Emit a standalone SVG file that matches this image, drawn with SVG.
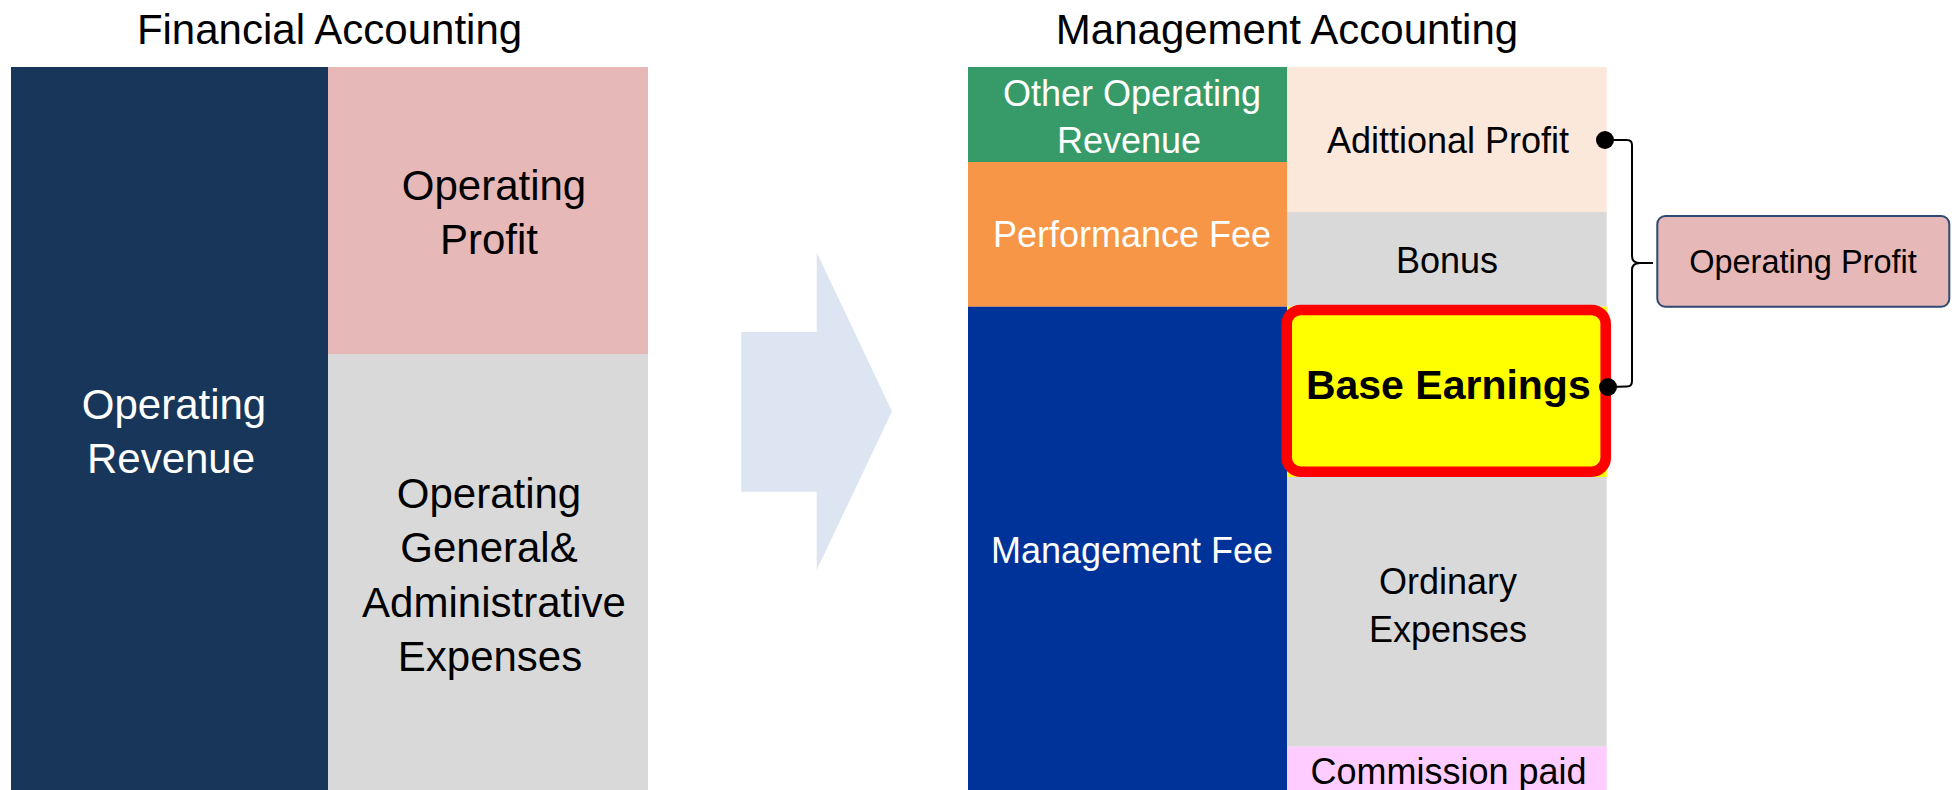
<svg xmlns="http://www.w3.org/2000/svg" width="1957" height="790" viewBox="0 0 1957 790">
<style>
text{font-family:"Liberation Sans",Arial,sans-serif;text-anchor:middle}
.t42{font-size:42px}
.t36{font-size:36px}
.w{fill:#FFFFFF}
.k{fill:#000000}
.conn{fill:none;stroke:#000000;stroke-width:2}
</style>
<rect width="1957" height="790" fill="#FFFFFF"/>
<g id="title-financial"><text class="t42 k" x="329.5" y="43.5">Financial Accounting</text></g>
<g id="title-management"><text class="t42 k" x="1287" y="43.5">Management Accounting</text></g>

<g id="operating-revenue">
<rect x="11" y="67" width="317" height="723" fill="#183659"/>
<text class="t42 w" x="174" y="419">Operating</text>
<text class="t42 w" x="171" y="473">Revenue</text>
</g>
<g id="operating-profit-fa">
<rect x="328" y="67" width="320" height="287" fill="#E6B8B7"/>
<text class="t42 k" x="494" y="199.5">Operating</text>
<text class="t42 k" x="489" y="253.5">Profit</text>
</g>
<g id="operating-ga-expenses">
<rect x="328" y="354" width="320" height="436" fill="#D9D9D9"/>
<text class="t42 k" x="489" y="508">Operating</text>
<text class="t42 k" x="489" y="562">General&amp;</text>
<text class="t42 k" x="494" y="616.5">Administrative</text>
<text class="t42 k" x="490" y="670.5">Expenses</text>
</g>

<g id="transition-arrow">
<polygon points="741.3,332 816.7,332 816.7,252.5 892,411.3 816.7,570.1 816.7,491.7 741.3,491.7" fill="#DCE5F1"/>
</g>

<g id="other-operating-revenue">
<rect x="968" y="67" width="319" height="95" fill="#369B69"/>
<text class="t36 w" x="1132" y="106">Other Operating</text>
<text class="t36 w" x="1129" y="152.5">Revenue</text>
</g>
<g id="performance-fee">
<rect x="968" y="162" width="319" height="144.7" fill="#F79646"/>
<text class="t36 w" x="1132" y="246.5">Performance Fee</text>
</g>
<g id="management-fee">
<rect x="968" y="306.7" width="319" height="483.3" fill="#003399"/>
<text class="t36 w" x="1132" y="562.5">Management Fee</text>
</g>
<g id="additional-profit">
<rect x="1287" y="67" width="319.7" height="145" fill="#FCE8DA"/>
<text class="t36 k" x="1448" y="152.5">Adittional Profit</text>
</g>
<g id="bonus">
<rect x="1287" y="212" width="319.7" height="94.7" fill="#D9D9D9"/>
<text class="t36 k" x="1447" y="273">Bonus</text>
</g>
<g id="ordinary-expenses">
<rect x="1287" y="477" width="319.7" height="269.7" fill="#D9D9D9"/>
<text class="t36 k" x="1448" y="594.3">Ordinary</text>
<text class="t36 k" x="1448" y="642">Expenses</text>
</g>
<g id="commission-paid">
<rect x="1287" y="746.7" width="319.7" height="43.3" fill="#FFCCFF"/>
<text class="t36 k" x="1448.5" y="784.3">Commission paid</text>
</g>
<g id="base-earnings">
<rect x="1287" y="306.7" width="319.7" height="170.3" fill="#FFFF00"/>
<rect x="1286.7" y="310" width="319" height="161.7" rx="14" ry="14" fill="#FFFF00" stroke="#FF0000" stroke-width="10.6"/>
<text x="1448.3" y="399" style="font-size:41px;font-weight:bold" class="k">Base Earnings</text>
</g>
<g id="operating-profit-ma">
<rect x="1657.3" y="216" width="292" height="90.7" rx="8" ry="8" fill="#E6B8B7" stroke="#2E4A72" stroke-width="2"/>
<text x="1803" y="273.3" style="font-size:32.5px" class="k">Operating Profit</text>
</g>

<g id="connectors">
<path class="conn" d="M1605,140 L1627,140 Q1632,140 1632,145 L1632,256 Q1632,263 1640,263 L1653,263 M1640,263 Q1632,263 1632,270 L1632,381 Q1632,386.5 1627,386.5 L1608,387"/>
<circle cx="1605" cy="140" r="9" fill="#000000"/>
<circle cx="1608" cy="387" r="9" fill="#000000"/>
</g>
</svg>
